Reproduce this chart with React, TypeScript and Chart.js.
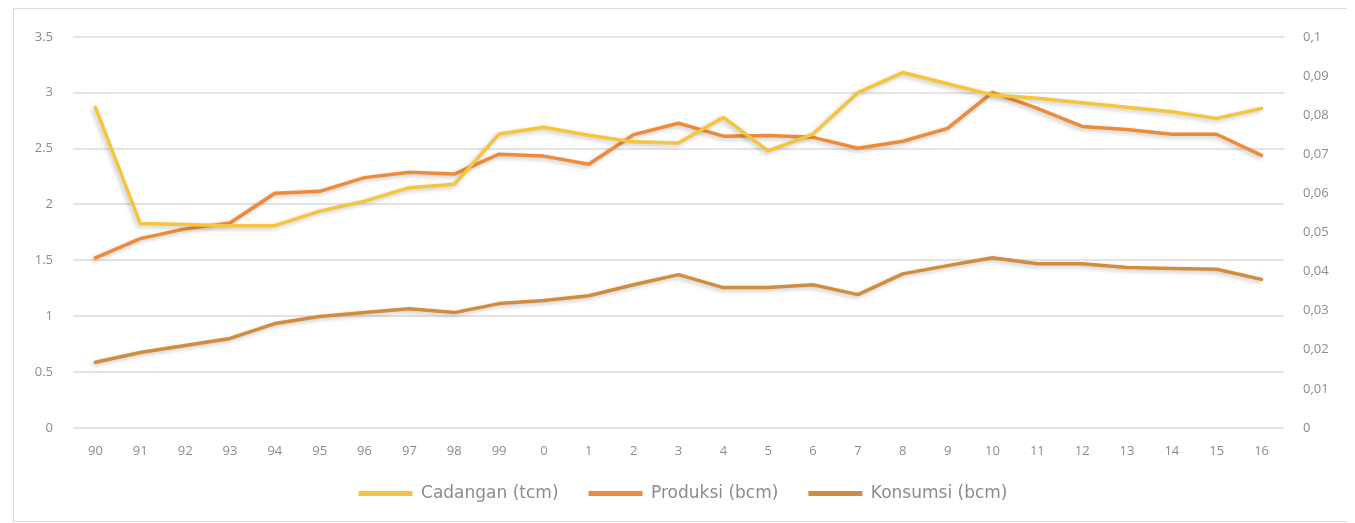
import React, { useEffect, useRef } from 'react';
import { Chart, registerables } from 'chart.js';

Chart.register(...registerables);

const years = ['90', '91', '92', '93', '94', '95', '96', '97', '98', '99', '0', '1', '2', '3', '4', '5', '6', '7', '8', '9', '10', '11', '12', '13', '14', '15', '16'];

const cadangan = [2.87, 1.83, 1.82, 1.81, 1.81, 1.94, 2.03, 2.15, 2.18, 2.63, 2.69, 2.62, 2.56, 2.55, 2.78, 2.48, 2.63, 3.0, 3.18, 3.08, 2.98, 2.95, 2.91, 2.87, 2.83, 2.77, 2.86];

const produksi = [0.0435, 0.0484, 0.0509, 0.0524, 0.06, 0.0605, 0.064, 0.0654, 0.0649, 0.07, 0.0695, 0.0674, 0.075, 0.0779, 0.0746, 0.0748, 0.0743, 0.0715, 0.0733, 0.0766, 0.0858, 0.0817, 0.0771, 0.0763, 0.0751, 0.0751, 0.0697];

const konsumsi = [0.0168, 0.0193, 0.0211, 0.0229, 0.0267, 0.0285, 0.0295, 0.0305, 0.0295, 0.0318, 0.0326, 0.0338, 0.0366, 0.0392, 0.0359, 0.0359, 0.0366, 0.0341, 0.0394, 0.0415, 0.0435, 0.042, 0.042, 0.041, 0.0408, 0.0406, 0.038];

const seriesNames = ['Cadangan (tcm)', 'Produksi (bcm)', 'Konsumsi (bcm)'];
const seriesColors = ['#F5C53E', '#EE8B38', '#D38C3C'];

const FONT = "'Open Sans', 'DejaVu Sans', sans-serif";
const LEGEND_FONT = "'DejaVu Sans', 'Open Sans', sans-serif";
const TEXT = '#8c8c8c';

const shadowPlugin = {
  id: 'lineShadow',
  beforeDatasetDraw(chart: any) {
    const ctx = chart.ctx;
    ctx.save();
    ctx.shadowColor = 'rgba(0,0,0,0.22)';
    ctx.shadowBlur = 4;
    ctx.shadowOffsetX = -2;
    ctx.shadowOffsetY = 2;
  },
  afterDatasetDraw(chart: any) {
    chart.ctx.restore();
  },
};

export default function App() {
  const ref = useRef<HTMLCanvasElement | null>(null);

  useEffect(() => {
    if (!ref.current) return;
    const chart = new Chart(ref.current, {
      type: 'line',
      data: {
        labels: years,
        datasets: [
          { label: seriesNames[0], data: cadangan, yAxisID: 'y', borderColor: seriesColors[0], backgroundColor: seriesColors[0] },
          { label: seriesNames[1], data: produksi, yAxisID: 'y1', borderColor: seriesColors[1], backgroundColor: seriesColors[1] },
          { label: seriesNames[2], data: konsumsi, yAxisID: 'y1', borderColor: seriesColors[2], backgroundColor: seriesColors[2] },
        ],
      },
      plugins: [shadowPlugin],
      options: {
        responsive: false,
        animation: false,
        elements: {
          line: { borderWidth: 3.5, tension: 0, borderJoinStyle: 'round', borderCapStyle: 'round' },
          point: { radius: 0, hoverRadius: 0 },
        },
        layout: { padding: { top: 26, bottom: 9, left: 0, right: 0 } },
        plugins: {
          tooltip: { enabled: false },
          legend: {
            position: 'bottom',
            labels: {
              boxWidth: 54,
              boxHeight: 5,
              padding: 30,
              color: TEXT,
              font: { family: LEGEND_FONT, size: 17 },
              generateLabels: (c: any) =>
                Chart.defaults.plugins.legend.labels.generateLabels(c).map((l: any) => ({ ...l, lineWidth: 0 })),
            },
          },
        },
        scales: {
          x: {
            offset: true,
            grid: { display: false },
            border: { display: false },
            ticks: { color: TEXT, font: { family: FONT, size: 13 }, padding: 7, maxRotation: 0, autoSkip: false },
            afterFit: (s: any) => { s.height = 27; },
          },
          y: {
            position: 'left',
            min: 0,
            max: 3.5,
            border: { display: false },
            grid: { color: '#e4e4e4', lineWidth: 2, drawTicks: false },
            ticks: { stepSize: 0.5, color: TEXT, font: { family: FONT, size: 13 }, padding: 20, callback: (v: any) => String(v) },
            afterFit: (s: any) => { s.width = 59; },
          },
          y1: {
            position: 'right',
            min: 0,
            max: 0.1,
            border: { display: false },
            grid: { drawOnChartArea: false, drawTicks: false },
            ticks: {
              stepSize: 0.01,
              color: TEXT,
              font: { family: FONT, size: 13 },
              padding: 19,
              callback: (v: any) => (Number(v) === 0 ? '0' : String(+Number(v).toFixed(2)).replace('.', ',')),
            },
            afterFit: (s: any) => { s.width = 68; },
          },
        },
      },
    });
    return () => chart.destroy();
  }, []);

  return (
    <div style={{ marginLeft: 5, width: 1338, height: 512, border: '1px solid #dadada', background: '#fff' }}>
      <canvas ref={ref} width={1338} height={512} style={{ display: 'block' }} />
    </div>
  );
}
